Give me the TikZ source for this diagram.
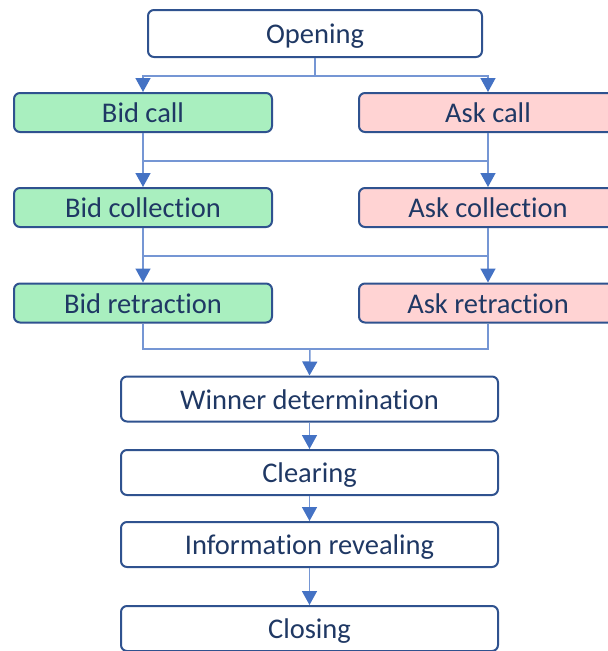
\documentclass[tikz,border=0pt]{standalone}
\usepackage{fontspec}
\setmainfont{Carlito}[Ligatures={NoCommon}]
\usetikzlibrary{arrows.meta}
\definecolor{boxline}{HTML}{2F528F}
\definecolor{txt}{HTML}{1F3864}
\definecolor{conn}{HTML}{7596D4}
\definecolor{tip}{HTML}{4472C4}
\definecolor{bidfill}{HTML}{A9EFBF}
\definecolor{askfill}{HTML}{FFD3D3}
\tikzset{
  box/.style={draw=boxline, line width=2pt, rounded corners=6pt, fill=white,
    inner sep=0pt, text=txt, text height=22pt, text depth=2pt,
    font=\fontsize{28.5}{34}\selectfont},
  bidbox/.style={box, fill=bidfill, minimum width=258pt, minimum height=39pt},
  askbox/.style={box, fill=askfill, minimum width=258pt, minimum height=39pt},
  midbox/.style={box, minimum width=377pt, minimum height=45pt},
  wire/.style={draw=conn, line width=1.5pt},
  arr/.style={wire, -{Triangle[width=15pt,length=14pt,color=tip]}}
}
\begin{document}
\begin{tikzpicture}[x=1pt,y=-1pt]
\useasboundingbox (0,0) rectangle (608,651);
\node[box, minimum width=334pt, minimum height=47pt] (open) at (315,33.5) {Opening};
\node[bidbox] (bidcall) at (143,112.5) {Bid call};
\node[askbox] (askcall) at (488,112.5) {Ask call};
\node[bidbox] (bidcoll) at (143,207.5) {Bid collection};
\node[askbox] (askcoll) at (488,207.5) {Ask collection};
\node[bidbox] (bidret) at (143,303) {Bid retraction};
\node[askbox] (askret) at (488,303) {Ask retraction};
\node[midbox] (winner) at (309.5,399) {Winner determination};
\node[midbox] (clear) at (309.5,472.5) {Clearing};
\node[midbox] (info) at (309.5,544.5) {Information revealing};
\node[midbox] (close) at (309.5,628.5) {Closing};

\coordinate (m0) at (315,76);
\coordinate (m1) at (315,161);
\coordinate (m2) at (315,256);
\coordinate (m3) at (310,349);

% opening to calls
\draw[wire] (open.south) -- (m0);
\draw[arr] (m0) -| (bidcall.north);
\draw[arr] (m0) -| (askcall.north);

% calls to collections
\draw[arr] (bidcall.south) -- (bidcoll.north);
\draw[arr] (askcall.south) -- (askcoll.north);
\draw[wire] (bidcall.south |- m1) -- (askcall.south |- m1);

% collections to retractions
\draw[arr] (bidcoll.south) -- (bidret.north);
\draw[arr] (askcoll.south) -- (askret.north);
\draw[wire] (bidcoll.south |- m2) -- (askcoll.south |- m2);

% retractions to winner
\draw[wire] (bidret.south) |- (m3) -| (askret.south);
\draw[arr] (m3) -- (winner.north);

\draw[arr] (winner.south) -- (clear.north);
\draw[arr] (clear.south) -- (info.north);
\draw[arr] (info.south) -- (close.north);
\end{tikzpicture}
\end{document}
